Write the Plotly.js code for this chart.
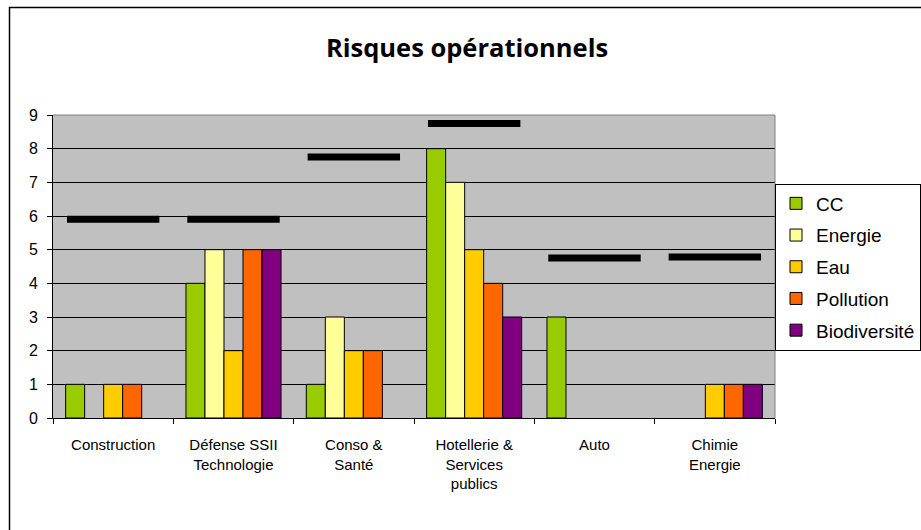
<!DOCTYPE html>
<html>
<head>
<meta charset="utf-8">
<script src="https://cdn.plot.ly/plotly-3.0.1.min.js"></script>
<style>html,body{margin:0;padding:0;background:#fff;}#chart{width:921px;height:530px;}</style>
</head>
<body>
<div id="chart"></div>
<script>
var categories = ["Construction", "Défense SSII<br>Technologie", "Conso &<br>Santé", "Hotellerie &<br>Services<br>publics", "Auto", "Chimie<br>Energie"];
var seriesNames = ["CC", "Energie", "Eau", "Pollution", "Biodiversité"];
var cc = [1, 4, 1, 8, 3, null];
var energie = [null, 5, 3, 7, null, null];
var eau = [1, 2, 2, 5, null, 1];
var pollution = [1, 5, 2, 4, null, 1];
var biodiversite = [null, 5, null, 3, null, 1];
var niveau = [5.9, 5.9, 7.75, 8.75, 4.75, 4.78];
var yTicks = [0, 1, 2, 3, 4, 5, 6, 7, 8, 9];

var colors = ["#99CC00", "#FFFF99", "#FFCC00", "#FF6600", "#800080"];
var seriesValues = [cc, energie, eau, pollution, biodiversite];

var traces = seriesValues.map(function (vals, i) {
  return {
    type: "bar",
    name: seriesNames[i],
    x: categories,
    y: vals,
    legendgroup: "g" + i,
    marker: {color: colors[i], line: {color: "#000", width: 1}},
    hoverinfo: "x+y+name"
  };
});
traces.push({
  type: "scatter",
  mode: "markers",
  x: categories,
  y: niveau,
  showlegend: false,
  cliponaxis: false,
  marker: {symbol: "line-ew", size: 66, color: "#000", line: {color: "#000", width: 7}}
});

var L = 53, R = 921 - 775, T = 115, B = 530 - 418;
var pw = 921 - L - R, ph = 530 - T - B;
function px(x) { return (x - L) / pw; }
function py(y) { return (530 - B - y) / ph; }

var layout = {
  width: 921, height: 530,
  margin: {l: L, r: R, t: T, b: B, pad: 0, autoexpand: false},
  paper_bgcolor: "#fff",
  plot_bgcolor: "#C0C0C0",
  font: {family: "Liberation Sans, Arial, sans-serif", color: "#000"},
  title: {
    text: "<b>Risques opérationnels</b>",
    font: {family: "Open Sans, Noto Sans, sans-serif", size: 25.5, color: "#000"},
    x: 467 / 921, xref: "container", xanchor: "center",
    y: 1 - 48 / 530, yref: "container", yanchor: "middle"
  },
  barmode: "group",
  bargap: 0.21,
  bargroupgap: 0,
  showlegend: true,
  legend: {
    x: px(921), xanchor: "right", y: py(267), yanchor: "middle",
    bgcolor: "#fff", bordercolor: "#000", borderwidth: 1,
    font: {family: "Liberation Sans, Arial, sans-serif", size: 19, color: "#000"},
    tracegroupgap: 4, traceorder: "grouped"
  },
  xaxis: {
    type: "category",
    range: [-0.5, 5.5],
    autorange: false,
    showgrid: false,
    showline: true, linecolor: "#000", linewidth: 1,
    ticks: "outside", ticklen: 5, tickcolor: "#000", tickson: "boundaries",
    tickangle: 0,
    tickfont: {family: "Liberation Sans, Arial, sans-serif", size: 15, color: "#000"},
    ticklabelstandoff: 13,
    fixedrange: true
  },
  yaxis: {
    range: [0, 9],
    autorange: false,
    tickvals: yTicks,
    ticktext: yTicks.map(String),
    showgrid: true, gridcolor: "#000", gridwidth: 1,
    showline: true, linecolor: "#000", linewidth: 1,
    ticks: "outside", ticklen: 5, tickcolor: "#000",
    tickfont: {family: "Liberation Sans, Arial, sans-serif", size: 16, color: "#000"},
    ticklabelstandoff: 6,
    zeroline: false,
    fixedrange: true
  },
  shapes: [
    {type: "line", xref: "paper", yref: "paper", x0: 0, x1: 1, y0: 1, y1: 1, line: {color: "#808080", width: 1}},
    {type: "line", xref: "paper", yref: "paper", x0: 1, x1: 1, y0: 0, y1: 1, line: {color: "#808080", width: 1}},
    {type: "rect", xref: "paper", yref: "paper", x0: px(9.5), x1: px(940), y0: py(7.5), y1: py(560), line: {color: "#000", width: 1.5}, fillcolor: "rgba(0,0,0,0)"}
  ]
};

Plotly.newPlot("chart", traces, layout, {displayModeBar: false, staticPlot: true});
</script>
</body>
</html>
